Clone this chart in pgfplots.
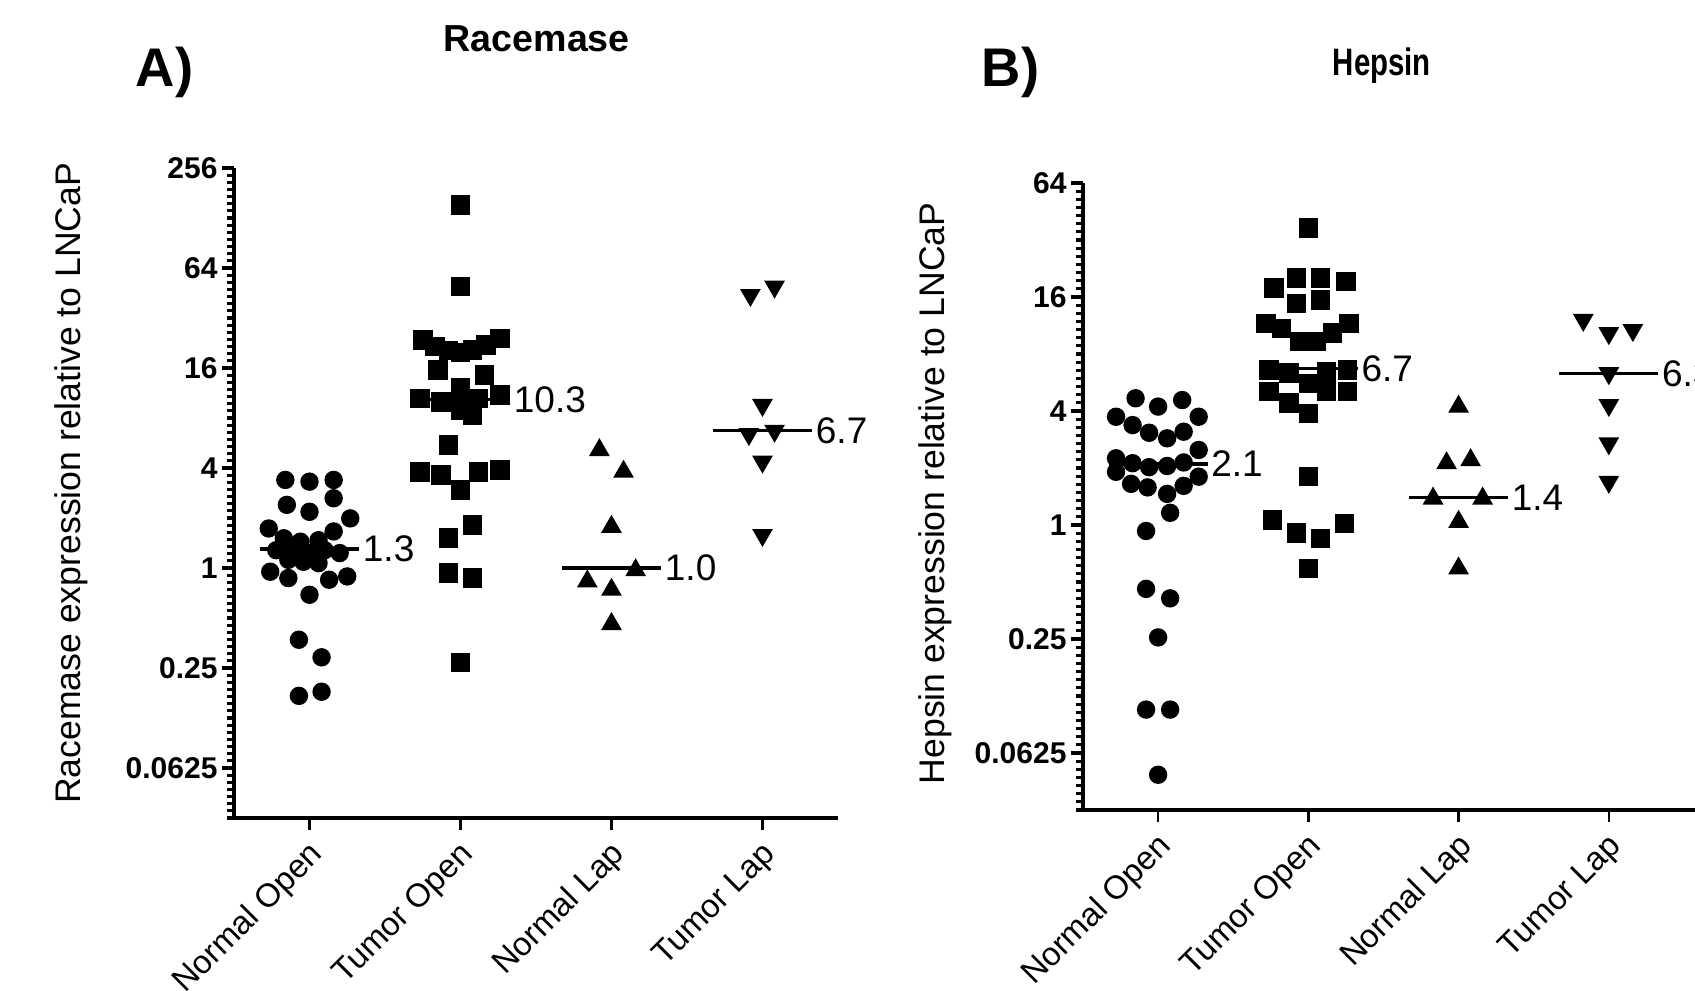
\documentclass[border=0pt]{standalone}
\usepackage{fontspec}
\setmainfont{Liberation Sans}
\usepackage{graphicx}
\usepackage{pgfplots}
\pgfplotsset{compat=1.18}

% column scatter on a log2 axis: values stay plain, the filter takes log2
\pgfplotsset{
  dotplot/.style={
    scale only axis, clip=false,
    axis lines=left, axis line style={-, line width=1.1pt},
    xmin=-0.5, xtick={0,1,2,3},
    xticklabels={Normal Open, Tumor Open, Normal Lap, Tumor Lap},
    xticklabel style={rotate=45, anchor=east, xshift=1.5pt, yshift=-5pt,
                      font=\fontsize{8.2}{9}\selectfont},
    y filter/.code={\pgfmathparse{ln(##1)/ln(2)}},
    ymin=-5,
    yticklabel style={font=\bfseries\fontsize{7.5}{8}\selectfont, xshift=2.4pt},
    tick align=outside, major tick length=3pt, minor tick length=1.7pt,
    ytick style={line width=0.8pt, black}, minor tick style={line width=0.7pt, black},
    xtick style={line width=0.6pt, black},
    ylabel style={font=\fontsize{8.9}{10}\selectfont, anchor=center},
  },
  circ/.style={only marks, mark=*, mark size=2.1pt, black},
  sq/.style={only marks, mark=square*, mark size=2.25pt, black},
  tri/.style={only marks, mark=triangle*, mark size=2.6pt, black},
  dtri/.style={only marks, mark=triangle*, mark size=2.6pt, black, mark options={rotate=180}},
  medline/.style={black, line width=0.8pt, no marks},
}
\tikzset{medlab/.style={anchor=west, inner sep=0.5pt, font=\fontsize{9.25}{10}\selectfont}}

\begin{document}
\begin{tikzpicture}
\useasboundingbox (0,0) rectangle (423.75pt,247.5pt);
\clip (0,0) rectangle (423.75pt,247.5pt);

\node[anchor=base west, inner sep=0pt] at (33.75pt,226pt)
  {\bfseries\fontsize{13.6}{15}\selectfont A)};
\node[anchor=base west, inner sep=0pt] at (110.75pt,234.6pt)
  {\bfseries\fontsize{9.4}{11}\selectfont Racemase};
\node[anchor=base west, inner sep=0pt] at (245.25pt,226pt)
  {\bfseries\fontsize{13.6}{15}\selectfont B)};
\node[anchor=base west, inner sep=0pt] at (333pt,228.6pt)
  {\scalebox{1}[1.3]{\bfseries\fontsize{7.35}{9}\selectfont Hepsin}};

% A) Racemase
\begin{axis}[dotplot, at={(58.5pt,43pt)}, width=151pt, height=162.5pt,
  xmax=3.5, ymax=8,
  ytick={-4,-2,...,8}, yticklabels={0.0625,0.25,1,4,16,64,256},
  minor ytick={-5,-4.857143,...,8},
  ylabel={Racemase expression relative to LNCaP},
  ylabel style={at={(axis description cs:-0.2694,0.515)}}]
\addplot[medline] coordinates {(-0.33,1.3) (0.33,1.3)} node[medlab,pos=1] {1.3};
\addplot[medline] coordinates {(0.67,10.3) (1.33,10.3)} node[medlab,pos=1] {10.3};
\addplot[medline] coordinates {(1.67,1.0) (2.33,1.0)} node[medlab,pos=1] {1.0};
\addplot[medline] coordinates {(2.67,6.7) (3.33,6.7)} node[medlab,pos=1] {6.7};
\addplot[circ] coordinates {
(-0.16,3.39) (0.00,3.31) (0.16,3.39) (-0.15,2.40) (0.00,2.18) (0.16,2.63)
(0.27,1.99) (-0.27,1.73) (0.16,1.66) (-0.17,1.51) (-0.06,1.44) (0.06,1.47)
(-0.22,1.28) (-0.11,1.28) (0.00,1.23) (0.10,1.28) (0.20,1.23) (-0.14,1.12)
(-0.04,1.09) (0.06,1.07) (-0.26,0.95) (-0.14,0.87) (0.13,0.85) (0.25,0.89)
(0.00,0.69) (-0.07,0.37) (0.08,0.29) (-0.07,0.17) (0.08,0.18)};
\addplot[sq] coordinates {
(1.00,153) (1.00,49.4) (0.75,23.6) (0.83,21.5) (0.92,20.4) (1.00,19.8)
(1.08,20.5) (1.17,22.0) (1.26,24.1) (0.85,15.6) (1.16,14.5) (1.00,12.1)
(0.73,10.5) (0.87,10.0) (1.12,10.5) (1.26,11.0) (1.00,8.94) (1.08,8.34)
(0.92,5.5) (0.73,3.8) (0.87,3.63) (1.00,2.95) (1.12,3.8) (1.26,3.89)
(1.08,1.82) (0.92,1.51) (0.92,0.93) (1.08,0.87) (1.00,0.27)};
\addplot[tri] coordinates {
(1.92,5.13) (2.08,3.8) (2.00,1.77) (2.16,0.97) (1.84,0.83) (2.00,0.74) (2.00,0.46)};
\addplot[dtri] coordinates {
(2.92,44) (3.08,49.4) (3.00,9.58) (2.91,6.4) (3.08,6.7) (3.00,4.37) (3.00,1.58)};
\end{axis}

% B) Hepsin
\begin{axis}[dotplot, at={(270.75pt,45pt)}, width=154pt, height=156.75pt,
  xmax=3.6, ymax=6,
  ytick={-4,-2,...,6}, yticklabels={0.0625,0.25,1,4,16,64},
  minor ytick={-5,-4.857143,...,6},
  ylabel={Hepsin expression relative to LNCaP},
  ylabel style={at={(axis description cs:-0.24,0.505)}}]
\addplot[medline] coordinates {(-0.33,2.1) (0.33,2.1)} node[medlab,pos=1] {2.1};
\addplot[medline] coordinates {(0.67,6.7) (1.33,6.7)} node[medlab,pos=1] {6.7};
\addplot[medline] coordinates {(1.67,1.4) (2.33,1.4)} node[medlab,pos=1] {1.4};
\addplot[medline] coordinates {(2.67,6.3) (3.33,6.3)} node[medlab,pos=1] {6.3};
\addplot[circ] coordinates {
(-0.15,4.67) (0.00,4.22) (0.16,4.57) (-0.28,3.73) (0.27,3.73) (-0.17,3.37)
(-0.06,3.07) (0.06,2.87) (0.17,3.11) (0.27,2.49) (-0.28,2.25) (-0.28,1.91)
(-0.17,2.12) (-0.18,1.65) (-0.06,2.02) (-0.07,1.58) (0.06,2.05) (0.06,1.46)
(0.17,2.14) (0.17,1.61) (0.27,1.80) (0.08,1.16) (-0.08,0.93) (-0.08,0.46)
(0.08,0.41) (0.00,0.255) (-0.08,0.106) (0.08,0.106) (0.00,0.048)};
\addplot[sq] coordinates {
(1.00,36.9) (0.77,17.8) (0.92,20.1) (1.08,20.1) (1.25,19.3) (0.92,14.8)
(1.08,15.4) (0.72,11.6) (0.82,10.9) (0.94,9.3) (1.05,9.3) (1.16,10.3)
(1.27,11.6) (0.74,6.59) (0.87,6.37) (1.12,6.45) (1.26,6.59) (1.00,5.6)
(0.74,5.06) (1.12,5.06) (1.26,5.06) (0.87,4.42) (1.00,3.89) (1.00,1.8)
(0.76,1.06) (0.92,0.91) (1.08,0.85) (1.24,1.02) (1.00,0.59)};
\addplot[tri] coordinates {
(2.00,4.22) (1.92,2.12) (2.08,2.2) (1.83,1.38) (2.16,1.38) (2.00,1.04) (2.00,0.59)};
\addplot[dtri] coordinates {
(2.83,12.1) (3.00,10.3) (3.16,10.7) (3.00,6.33) (3.00,4.3) (3.00,2.7) (3.00,1.69)};
\end{axis}
\end{tikzpicture}
\end{document}
